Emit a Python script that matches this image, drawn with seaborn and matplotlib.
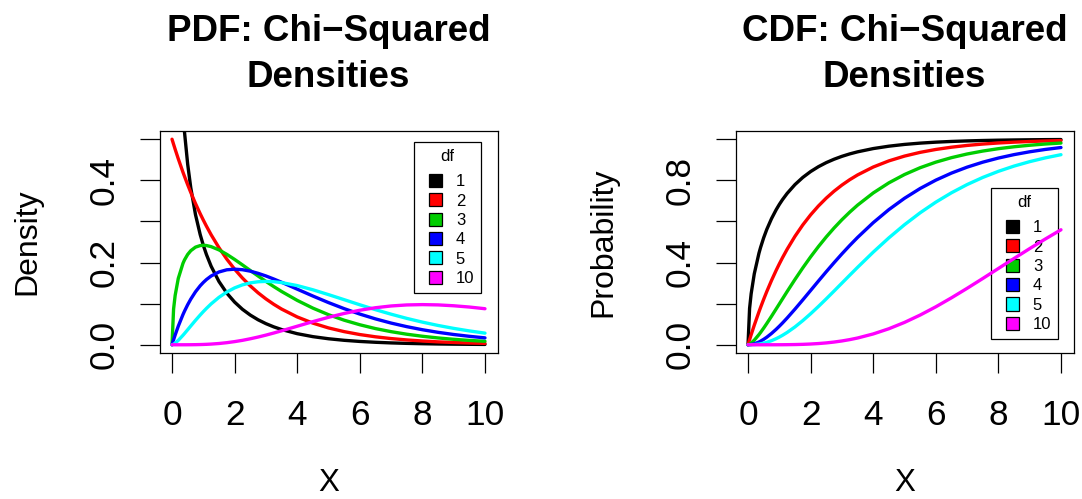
import numpy as np
import pandas as pd
import matplotlib
matplotlib.use("Agg")
import matplotlib.pyplot as plt
from matplotlib.patches import Patch, Rectangle
from matplotlib.legend_handler import HandlerPatch
import seaborn as sns

# ---------------- data ----------------
x_vals = [0, 0.05, 0.1, 0.2, 0.35, 0.4, 0.5, 0.6, 0.75, 0.9, 1.0, 1.1, 1.25, 1.5, 1.75,
          2.0, 2.25, 2.5, 2.75, 3.0, 3.25, 3.5, 4.0,
          4.5, 5.0, 5.5, 6.0, 6.5, 7.0, 7.5, 8.0, 8.5, 9.0, 9.5, 10.0]

df_levels = ["1", "2", "3", "4", "5", "10"]
df_colors = ["#000000", "#FF0000", "#00CD00", "#0000FF", "#00FFFF", "#FF00FF"]

pdf_df1 = [np.nan, 1.7401, 1.2000, 0.8072, 0.5661, 0.5164, 0.4394, 0.3815, 0.3166, 0.2681,
           0.2420, 0.2195, 0.1910, 0.1539, 0.1257, 0.1038, 0.0863, 0.0723, 0.0608, 0.0514,
           0.0436, 0.0371, 0.0270,
           0.0198, 0.01465, 0.01087, 0.00811, 0.00607, 0.00455, 0.00343, 0.00258, 0.00195,
           0.00148, 0.00112, 0.00085]
pdf_df2 = [0.5, 0.4877, 0.4756, 0.4524, 0.4197, 0.4094, 0.3894, 0.3704, 0.3436, 0.3188,
           0.3033, 0.2885, 0.2676, 0.2362, 0.2084, 0.1839, 0.1623, 0.1433, 0.1264, 0.1116,
           0.0985, 0.0869, 0.0677,
           0.0527, 0.0410, 0.0320, 0.0249, 0.0194, 0.0151, 0.0118, 0.0092, 0.0071,
           0.0056, 0.0043, 0.0034]
pdf_df3 = [0, 0.0870, 0.1200, 0.1614, 0.1981, 0.2066, 0.2197, 0.2289, 0.2375, 0.2413,
           0.2420, 0.2414, 0.2387, 0.2308, 0.2200, 0.2076, 0.1943, 0.1807, 0.1673, 0.1542,
           0.1416, 0.1297, 0.1080,
           0.0892, 0.0732, 0.0598, 0.0487, 0.0394, 0.0319, 0.0257, 0.0207, 0.0166,
           0.0133, 0.0106, 0.0085]
pdf_df4 = [0, 0.0122, 0.0238, 0.0452, 0.0735, 0.0819, 0.0974, 0.1111, 0.1289, 0.1435,
           0.1516, 0.1587, 0.1673, 0.1771, 0.1824, 0.1839, 0.1826, 0.1791, 0.1738, 0.1674,
           0.1600, 0.1521, 0.1353,
           0.1186, 0.1026, 0.0879, 0.0747, 0.0630, 0.0528, 0.0441, 0.0366, 0.0303,
           0.0250, 0.0206, 0.0168]
pdf_df5 = [0, 0.0015, 0.0040, 0.0108, 0.0231, 0.0275, 0.0366, 0.0458, 0.0594, 0.0724,
           0.0807, 0.0885, 0.0995, 0.1154, 0.1283, 0.1384, 0.1457, 0.1506, 0.1533, 0.1542,
           0.1534, 0.1513, 0.1440,
           0.1338, 0.1220, 0.1097, 0.0973, 0.0854, 0.0744, 0.0642, 0.0551, 0.0470,
           0.0399, 0.0337, 0.0283]
pdf_df10 = [0, 0.0, 0.0, 0.000002, 0.000016, 0.000027, 0.000063, 0.000125, 0.00028, 0.00055,
            0.00079, 0.0011, 0.0017, 0.0031, 0.0051, 0.0077, 0.0108, 0.0146, 0.0188, 0.0235,
            0.0286, 0.0340, 0.0451,
            0.0563, 0.0668, 0.0762, 0.0840, 0.0901, 0.0944, 0.0969, 0.0977, 0.0970,
            0.0949, 0.0918, 0.0877]

cdf_df1 = [0, 0.1769, 0.2482, 0.3453, 0.4459, 0.4729, 0.5205, 0.5614, 0.6135, 0.6572,
           0.6827, 0.7057, 0.7364, 0.7793, 0.8141, 0.8427, 0.8664, 0.8862, 0.9027, 0.9167,
           0.9286, 0.9386, 0.9545,
           0.9661, 0.9747, 0.9810, 0.9857, 0.9892, 0.9918, 0.9938, 0.9953, 0.9964,
           0.9973, 0.9980, 0.9984]
cdf_df2 = [0, 0.0247, 0.0488, 0.0952, 0.1605, 0.1813, 0.2212, 0.2592, 0.3127, 0.3624,
           0.3935, 0.4231, 0.4647, 0.5276, 0.5831, 0.6321, 0.6753, 0.7135, 0.7472, 0.7769,
           0.8031, 0.8262, 0.8647,
           0.8946, 0.9179, 0.9361, 0.9502, 0.9612, 0.9698, 0.9765, 0.9817, 0.9857,
           0.9889, 0.9914, 0.9933]
cdf_df3 = [0, 0.0029, 0.0082, 0.0224, 0.0496, 0.0598, 0.0811, 0.1036, 0.1386, 0.1746,
           0.1987, 0.2229, 0.2590, 0.3177, 0.3741, 0.4276, 0.4778, 0.5247, 0.5682, 0.6084,
           0.6453, 0.6793, 0.7385,
           0.7877, 0.8282, 0.8614, 0.8884, 0.9103, 0.9281, 0.9424, 0.9540, 0.9633,
           0.9707, 0.9767, 0.9814]
cdf_df4 = [0, 0.0003, 0.0012, 0.0047, 0.0136, 0.0175, 0.0265, 0.0369, 0.0550, 0.0754,
           0.0902, 0.1057, 0.1302, 0.1734, 0.2184, 0.2642, 0.3101, 0.3554, 0.3995, 0.4422,
           0.4831, 0.5221, 0.5940,
           0.6575, 0.7127, 0.7603, 0.8009, 0.8352, 0.8641, 0.8883, 0.9084, 0.9251,
           0.9389, 0.9503, 0.9596]
cdf_df5 = [0, 0.00003, 0.0002, 0.0009, 0.0034, 0.0047, 0.0079, 0.0120, 0.0199, 0.0298,
           0.0374, 0.0459, 0.0600, 0.0869, 0.1175, 0.1509, 0.1864, 0.2235, 0.2615, 0.3000,
           0.3385, 0.3766, 0.4506,
           0.5201, 0.5841, 0.6421, 0.6938, 0.7394, 0.7794, 0.8140, 0.8438, 0.8693,
           0.8909, 0.9093, 0.9248]
cdf_df10 = [0, 0.0, 0.0, 0.0, 0.0, 0.0, 0.00001, 0.00002, 0.00004, 0.0001,
            0.00017, 0.00026, 0.0005, 0.0011, 0.0021, 0.0037, 0.0060, 0.0091, 0.0133, 0.0186,
            0.0251, 0.0329, 0.0527,
            0.0780, 0.1088, 0.1446, 0.1847, 0.2284, 0.2746, 0.3224, 0.3712, 0.4199,
            0.4679, 0.5146, 0.5595]

pdf_series = [pdf_df1, pdf_df2, pdf_df3, pdf_df4, pdf_df5, pdf_df10]
cdf_series = [cdf_df1, cdf_df2, cdf_df3, cdf_df4, cdf_df5, cdf_df10]

x_ticks = [0, 2, 4, 6, 8, 10]
x_tick_labels = ["0", "2", "4", "6", "8", "10"]
pdf_yticks = [0.0, 0.2, 0.4]
pdf_yticklabels = ["0.0", "0.2", "0.4"]
pdf_yminor = [0.1, 0.3, 0.5]
cdf_yticks = [0.0, 0.4, 0.8]
cdf_yticklabels = ["0.0", "0.4", "0.8"]
cdf_yminor = [0.2, 0.6, 1.0]

titles = [("PDF: Chi\u2212Squared", "Densities"), ("CDF: Chi\u2212Squared", "Densities")]
ylabels = ["Density", "Probability"]
xlabel = "X"
legend_title = "df"

# ---------------- long data frames ----------------
def to_long(series_list):
    rows = []
    for lvl, vals in zip(df_levels, series_list):
        n = min(len(vals), len(x_vals))
        for xv, yv in zip(x_vals[:n], vals[:n]):
            rows.append({"x": xv, "value": yv, "df": lvl})
    return pd.DataFrame(rows)

pdf_long = to_long(pdf_series)
cdf_long = to_long(cdf_series)

# ---------------- style ----------------
sns.set_theme(style="white")
plt.rcParams["font.family"] = ["Liberation Sans", "DejaVu Sans"]
for key in ["text.color", "axes.labelcolor", "xtick.color", "ytick.color", "axes.edgecolor"]:
    plt.rcParams[key] = "black"
plt.rcParams["axes.linewidth"] = 0.9

fig = plt.figure(figsize=(10.82, 4.99), dpi=100)
W, H = 1082.0, 499.0

panel_left_px = [159.5, 735.5]
ax_bottom_px, ax_top_px = 353.0, 131.0
ax_w_px = 338.0

palette = dict(zip(df_levels, df_colors))

SQ = 9.4  # legend square side, points


def square_patch(legend, orig_handle, xdescent, ydescent, width, height, fontsize):
    return Rectangle((-xdescent + width - SQ, -ydescent + (height - SQ) / 2), SQ, SQ)


configs = [
    (pdf_long, (-0.02, 0.52), pdf_yticks, pdf_yticklabels, pdf_yminor, (0.753, 0.9505)),
    (cdf_long, (-0.04, 1.04), cdf_yticks, cdf_yticklabels, cdf_yminor, (0.756, 0.743)),
]

for i, (data, ylim, yt, ytl, ymin, leg_anchor) in enumerate(configs):
    left = panel_left_px[i] / W
    ax = fig.add_axes([left, 1 - ax_bottom_px / H, ax_w_px / W, (ax_bottom_px - ax_top_px) / H])
    sns.lineplot(data=data, x="x", y="value", hue="df", hue_order=df_levels,
                 palette=palette, linewidth=2.4, legend=False, ax=ax,
                 estimator=None, sort=False, zorder=3)
    ax.set_xlim(-0.4, 10.4)
    ax.set_ylim(*ylim)
    for sp in ax.spines.values():
        sp.set_visible(True)
        sp.set_color("black")
        sp.set_linewidth(0.9)

    ax.set_xticks(x_ticks, x_tick_labels)
    ax.set_yticks(yt, ytl, rotation=90, va="center")
    ax.set_yticks(ymin, minor=True)
    ax.tick_params(axis="both", which="both", direction="out", length=14.4,
                   width=0.9, color="black", left=True, bottom=True)
    ax.tick_params(axis="x", which="major", labelsize=25.4, pad=18.5)
    ax.tick_params(axis="y", which="major", labelsize=25.4, pad=13.3)
    ax.tick_params(axis="y", which="minor", labelleft=False)

    ax.set_xlabel(xlabel, fontsize=22.5)
    ax.xaxis.set_label_coords(0.5, -0.52)
    ax.set_ylabel(ylabels[i], fontsize=23)
    ax.yaxis.set_label_coords(-0.347, 0.5)

    # title (two lines)
    cx = (panel_left_px[i] + ax_w_px / 2) / W
    fig.text(cx, 1 - 41 / H, titles[i][0], ha="center", va="baseline",
             fontsize=26.5, fontweight="bold")
    fig.text(cx, 1 - 87 / H, titles[i][1], ha="center", va="baseline",
             fontsize=26.5, fontweight="bold")

    handles = [Patch(facecolor=c, edgecolor="black", linewidth=0.9) for c in df_colors]
    leg = ax.legend(handles, df_levels, title=legend_title, loc="upper left",
                    bbox_to_anchor=leg_anchor, borderaxespad=0, fontsize=12,
                    title_fontsize=12, frameon=True, fancybox=False, shadow=False,
                    framealpha=1, facecolor="white", edgecolor="black",
                    handlelength=1.3, handleheight=0.78, handletextpad=0.81,
                    labelspacing=0.26, borderpad=0.4,
                    handler_map={Patch: HandlerPatch(patch_func=square_patch)})
    leg.get_frame().set_linewidth(0.9)
    leg._legend_box.sep = 7.5
    leg.set_zorder(1)

fig.savefig("out.png", dpi=100)
